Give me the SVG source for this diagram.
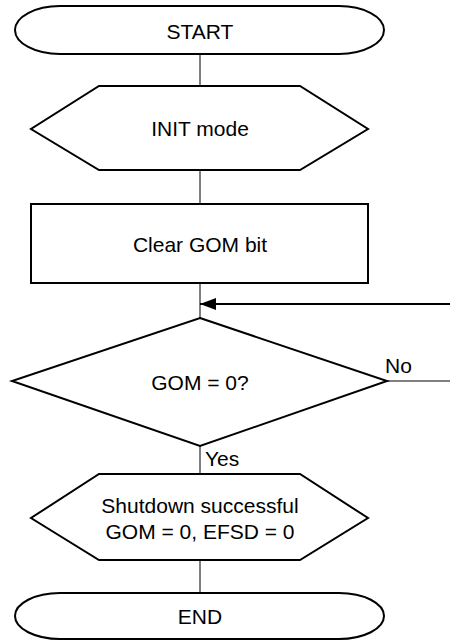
<svg xmlns="http://www.w3.org/2000/svg" width="450" height="640" viewBox="0 0 450 640">
<style>
.shape{fill:#fff;stroke:#000;stroke-width:2}
.conn{fill:none;stroke:#000;stroke-width:1}
.back{fill:none;stroke:#000;stroke-width:2}
text{font-family:"Liberation Sans",Arial,sans-serif;font-size:21px;fill:#000}
.c{text-anchor:middle}
</style>
<defs>
<marker id="arr" markerWidth="16" markerHeight="12" refX="16" refY="6" orient="auto" markerUnits="userSpaceOnUse">
<path d="M0,0 L16,6 L0,12 Z" fill="#000"/>
</marker>
</defs>
<g id="connectors">
<line class="conn" x1="200" y1="54" x2="200" y2="86"/>
<line class="conn" x1="200" y1="170" x2="200" y2="204"/>
<line class="conn" x1="200" y1="283" x2="200" y2="318"/>
<line class="back" x1="450" y1="304" x2="200" y2="304" marker-end="url(#arr)"/>
<line class="conn" x1="387" y1="381" x2="450" y2="381"/>
<line class="conn" x1="200" y1="446" x2="200" y2="474"/>
<line class="conn" x1="200" y1="560" x2="200" y2="593"/>
<text x="385" y="373">No</text>
<text x="205" y="466">Yes</text>
</g>
<g id="start">
<path class="shape" d="M60,6 L339,6 A45,24 0 0 1 339,54 L60,54 A45,24 0 0 1 60,6 Z"/>
<text class="c" x="200" y="39">START</text>
</g>
<g id="init">
<polygon class="shape" points="99,86 300,86 368,129 300,170 99,170 31,129"/>
<text class="c" x="200" y="136">INIT mode</text>
</g>
<g id="clear">
<rect class="shape" x="31" y="204" width="337" height="79"/>
<text class="c" x="200" y="252">Clear GOM bit</text>
</g>
<g id="decision">
<polygon class="shape" points="200,318 387,381 200,446 12,381"/>
<text class="c" x="200" y="390">GOM = 0?</text>
</g>
<g id="shutdown">
<polygon class="shape" points="99,474 300,474 368,518 300,560 99,560 31,518"/>
<text class="c" x="200" y="513">Shutdown successful</text>
<text class="c" x="200" y="539">GOM = 0, EFSD = 0</text>
</g>
<g id="end">
<path class="shape" d="M60,593 L339,593 A45,23 0 0 1 339,639 L60,639 A45,23 0 0 1 60,593 Z"/>
<text class="c" x="200" y="624">END</text>
</g>
</svg>
